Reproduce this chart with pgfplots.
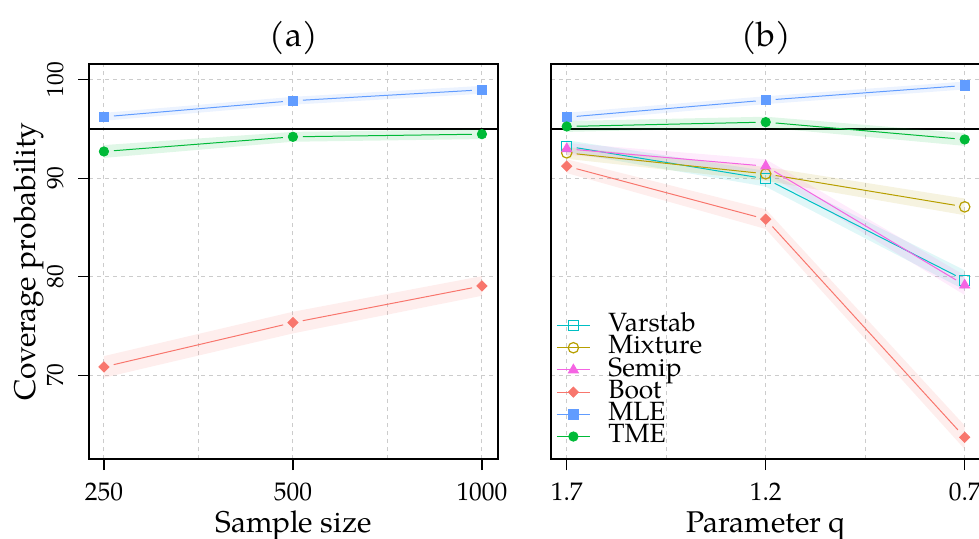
\documentclass[border=0pt]{standalone}
\usepackage{fontspec}
\setmainfont{texgyrepagella-regular.otf}
\usepackage{pgfplots}
\pgfplotsset{compat=1.18}
\definecolor{cVar}{HTML}{00BFC4}
\definecolor{cMix}{HTML}{B79F00}
\definecolor{cSem}{HTML}{F564E3}
\definecolor{cBoot}{HTML}{F8766D}
\definecolor{cMLE}{HTML}{619CFF}
\definecolor{cTME}{HTML}{00BA38}
\pgfplotsset{
  panel/.style={
    scale only axis, height=197.5pt,
    ymin=61.5, ymax=101.6,
    axis line style={line width=0.6pt},
    tick style={black, line width=0.6pt},
    major tick length=5.5pt, minor tick length=0pt,
    tick align=outside, tick pos=left,
    xtick={0,1,2}, minor xtick={0.5,1.5},
    ytick={70,80,90,100},
    xmajorgrids, xminorgrids, ymajorgrids,
    major grid style={gray!40, dash pattern=on 2pt off 2pt, line width=0.5pt},
    minor grid style={gray!40, dash pattern=on 2pt off 2pt, line width=0.5pt},
    xticklabel style={font=\fontsize{12.7}{14}\selectfont, anchor=base},
    xticklabel shift=15pt,
    label style={font=\fontsize{15}{17}\selectfont},
    xlabel style={at={(rel axis cs:0.5,0)}, anchor=base, yshift=-36.5pt},
    title style={font=\fontsize{17}{19}\selectfont, at={(rel axis cs:0.5,1)}, anchor=center, yshift=7.2pt},
  },
  band/.style={fill=#1, fill opacity=0.12, draw=none, forget plot},
  seg/.style={#1, line width=0.5pt, shorten <=5pt, shorten >=5pt, forget plot},
}
\begin{document}
\begin{tikzpicture}
% ---------------- panel (a)
\begin{axis}[panel, at={(44.5pt,-32pt)}, anchor=north west,
  width=204.5pt, xmin=-0.079, xmax=2.085,
  xticklabels={250,500,1000},
  yticklabels={70,80,90,100},
  yticklabel style={font=\fontsize{11.7}{13}\selectfont, rotate=90, anchor=base},
  yticklabel shift=7.5pt,
  ylabel={Coverage probability},
  ylabel style={at={([xshift=-27pt]rel axis cs:0,0.5)}, anchor=base},
  xlabel={Sample size}, title={(a)}]
\addplot[black, line width=0.6pt, forget plot] coordinates {(-0.079,95) (2.085,95)};
% bands
\addplot[band=cMLE] coordinates {(0,95.84) (1,97.47) (2,98.58) (2,99.38) (1,98.27) (0,96.64)};
\addplot[band=cTME] coordinates {(0,92.07) (1,93.71) (2,93.98) (2,94.98) (1,94.71) (0,93.37)};
\addplot[band=cBoot] coordinates {(0,69.75) (1,74.25) (2,78.07) (2,80.07) (1,76.45) (0,71.95)};
% lines
\addplot[seg=cMLE] coordinates {(0,96.24) (1,97.87)};
\addplot[seg=cMLE] coordinates {(1,97.87) (2,98.98)};
\addplot[seg=cTME] coordinates {(0,92.72) (1,94.21)};
\addplot[seg=cTME] coordinates {(1,94.21) (2,94.48)};
\addplot[seg=cBoot] coordinates {(0,70.85) (1,75.35)};
\addplot[seg=cBoot] coordinates {(1,75.35) (2,79.07)};
% marks
\addplot[only marks, mark=square*, mark size=2.3pt, color=cMLE, forget plot] coordinates {(0,96.24) (1,97.87) (2,98.98)};
\addplot[only marks, mark=*, mark size=2.35pt, color=cTME, forget plot] coordinates {(0,92.72) (1,94.21) (2,94.48)};
\addplot[only marks, mark=square*, mark size=1.8pt, mark options={rotate=45}, color=cBoot, forget plot] coordinates {(0,70.85) (1,75.35) (2,79.07)};
\end{axis}
% ---------------- panel (b)
\begin{axis}[panel, at={(275.5pt,-32pt)}, anchor=north west,
  width=215pt, xmin=-0.079, xmax=2.082,
  xticklabels={1.7,1.2,0.7},
  yticklabels={}, ytick style={draw=none},
  xlabel={Parameter q}, title={(b)},
  legend cell align=left,
  legend style={at={(rel axis cs:0.0116,0.367)}, anchor=north west, draw=none, fill=none,
    inner sep=0pt, row sep=0pt, column sep=9pt,
    font=\fontsize{13.2}{14}\selectfont,
    nodes={inner sep=0pt, text height=8.6pt, text depth=2.5pt}}]
\addplot[black, line width=0.6pt, forget plot] coordinates {(-0.079,95) (2.082,95)};
% bands
\addplot[band=cMLE] coordinates {(0,95.75) (1,97.53) (2,99.02) (2,99.82) (1,98.33) (0,96.65)};
\addplot[band=cTME] coordinates {(0,94.71) (1,95.15) (2,93.29) (2,94.59) (1,96.25) (0,95.81)};
\addplot[band=cVar] coordinates {(0,92.66) (1,89.15) (2,78.66) (2,80.66) (1,90.75) (0,93.86)};
\addplot[band=cMix] coordinates {(0,91.98) (1,89.75) (2,86.25) (2,87.95) (1,91.15) (0,93.18)};
\addplot[band=cSem] coordinates {(0,92.39) (1,90.53) (2,78.15) (2,80.15) (1,91.93) (0,93.59)};
\addplot[band=cBoot] coordinates {(0,90.53) (1,84.85) (2,62.5) (2,64.9) (1,86.85) (0,91.93)};
% lines
\addplot[seg=cMLE] coordinates {(0,96.2) (1,97.93)};
\addplot[seg=cMLE] coordinates {(1,97.93) (2,99.42)};
\addplot[seg=cTME] coordinates {(0,95.26) (1,95.7)};
\addplot[seg=cTME] coordinates {(1,95.7) (2,93.94)};
\addplot[seg=cVar] coordinates {(0,93.26) (1,89.95)};
\addplot[seg=cVar] coordinates {(1,89.95) (2,79.66)};
\addplot[seg=cMix] coordinates {(0,92.58) (1,90.45)};
\addplot[seg=cMix] coordinates {(1,90.45) (2,87.1)};
\addplot[seg=cSem] coordinates {(0,92.99) (1,91.23)};
\addplot[seg=cSem] coordinates {(1,91.23) (2,79.15)};
\addplot[seg=cBoot] coordinates {(0,91.23) (1,85.85)};
\addplot[seg=cBoot] coordinates {(1,85.85) (2,63.7)};
% marks
\addplot[only marks, mark=square*, mark size=2.3pt, color=cMLE, forget plot] coordinates {(0,96.2) (1,97.93) (2,99.42)};
\addplot[only marks, mark=*, mark size=2.35pt, color=cTME, forget plot] coordinates {(0,95.26) (1,95.7) (2,93.94)};
\addplot[only marks, mark=square, mark size=2.5pt, line width=0.6pt, color=cVar, forget plot] coordinates {(0,93.26) (1,89.95) (2,79.66)};
\addplot[only marks, mark=o, mark size=2.6pt, line width=0.6pt, color=cMix, forget plot] coordinates {(0,92.58) (1,90.45) (2,87.1)};
\addplot[only marks, mark=triangle*, mark size=2.9pt, color=cSem, forget plot] coordinates {(0,92.99) (1,91.23) (2,79.15)};
\addplot[only marks, mark=square*, mark size=1.8pt, mark options={rotate=45}, color=cBoot, forget plot] coordinates {(0,91.23) (1,85.85) (2,63.7)};
% legend
\addlegendimage{legend image code/.code={\draw[cVar, line width=0.5pt] (0pt,0pt)--(16.5pt,0pt); \draw[cVar, line width=0.6pt, mark=square, mark size=2.5pt] plot coordinates {(8.25pt,0pt)};}}
\addlegendentry{Varstab}
\addlegendimage{legend image code/.code={\draw[cMix, line width=0.5pt] (0pt,0pt)--(16.5pt,0pt); \draw[cMix, line width=0.6pt, mark=o, mark size=2.6pt] plot coordinates {(8.25pt,0pt)};}}
\addlegendentry{Mixture}
\addlegendimage{legend image code/.code={\draw[cSem, line width=0.5pt] (0pt,0pt)--(16.5pt,0pt); \draw[cSem, mark=triangle*, mark size=2.9pt] plot coordinates {(8.25pt,0pt)};}}
\addlegendentry{Semip}
\addlegendimage{legend image code/.code={\draw[cBoot, line width=0.5pt] (0pt,0pt)--(16.5pt,0pt); \draw[cBoot, mark=square*, mark size=1.8pt, mark options={rotate=45}] plot coordinates {(8.25pt,0pt)};}}
\addlegendentry{Boot}
\addlegendimage{legend image code/.code={\draw[cMLE, line width=0.5pt] (0pt,0pt)--(16.5pt,0pt); \draw[cMLE, mark=square*, mark size=2.3pt] plot coordinates {(8.25pt,0pt)};}}
\addlegendentry{MLE}
\addlegendimage{legend image code/.code={\draw[cTME, line width=0.5pt] (0pt,0pt)--(16.5pt,0pt); \draw[cTME, mark=*, mark size=2.35pt] plot coordinates {(8.25pt,0pt)};}}
\addlegendentry{TME}
\end{axis}
\pgfresetboundingbox
\useasboundingbox (0pt,0pt) rectangle (489.5pt,-269pt);
\end{tikzpicture}
\end{document}
